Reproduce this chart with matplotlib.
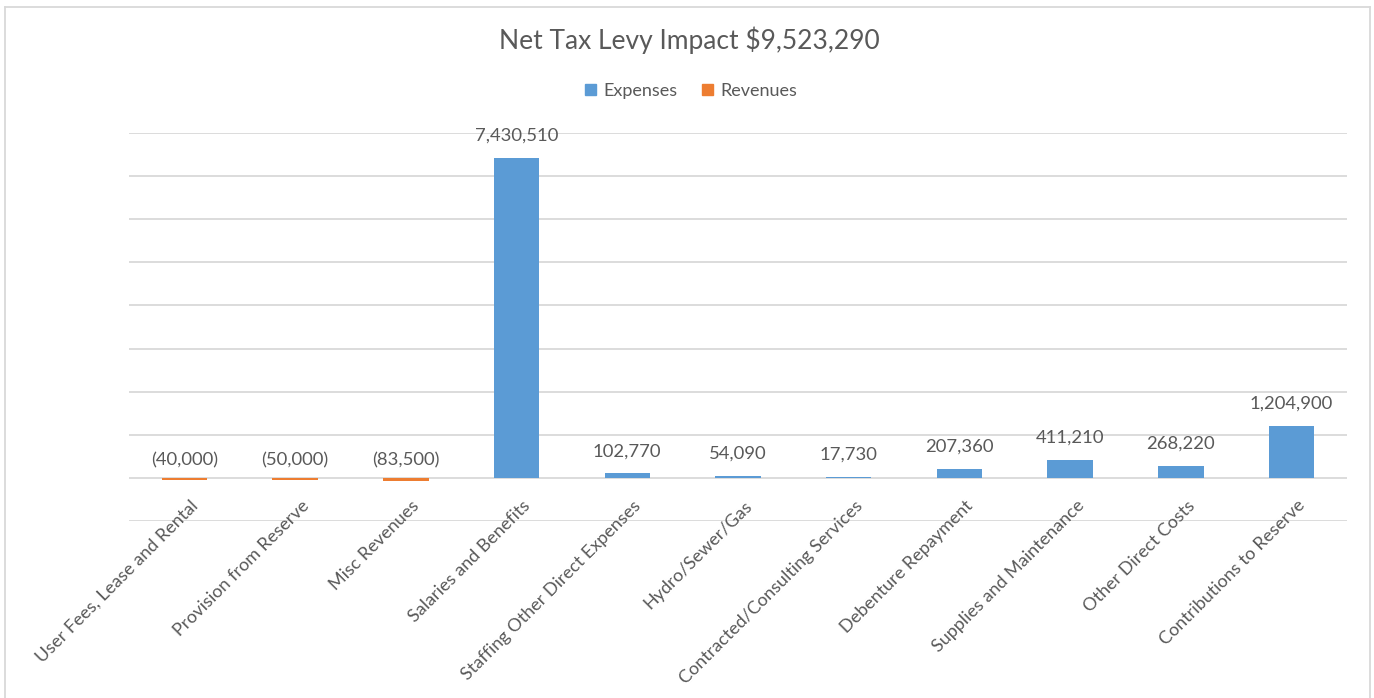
#!/usr/bin/env python3
"""Net tax levy impact: expenses and revenues by category."""

import matplotlib

matplotlib.use("Agg")
import matplotlib.pyplot as plt
from matplotlib.lines import Line2D
from matplotlib.patches import Patch

CATEGORIES = [
    "User Fees, Lease and Rental",
    "Provision from Reserve",
    "Misc Revenues",
    "Salaries and Benefits",
    "Staffing Other Direct Expenses",
    "Hydro/Sewer/Gas",
    "Contracted/Consulting Services",
    "Debenture Repayment",
    "Supplies and Maintenance",
    "Other Direct Costs",
    "Contributions to Reserve",
]
REVENUES = [-40000, -50000, -83500, None, None, None, None, None, None, None, None]
EXPENSES = [None, None, None, 7430510, 102770, 54090, 17730, 207360, 411210, 268220, 1204900]

BLUE = "#5B9BD5"
ORANGE = "#ED7D31"
TEXT = "#595959"
GRID = "#D9D9D9"

plt.rcParams["font.family"] = ["Lato", "DejaVu Sans"]


def fmt(value):
    if value < 0:
        return f"({-value:,.0f})"
    return f"{value:,.0f}"


fig = plt.figure(figsize=(13.74, 6.98), dpi=100)
ax = fig.add_axes([129 / 1374, 1 - 521 / 698, 1218 / 1374, 388 / 698])

for series, color in ((EXPENSES, BLUE), (REVENUES, ORANGE)):
    xs = [i for i, v in enumerate(series) if v is not None]
    vals = [v for v in series if v is not None]
    ax.bar(xs, vals, width=0.41, color=color, zorder=3)
    for x, v in zip(xs, vals):
        ax.annotate(
            fmt(v),
            (x, max(v, 0)),
            xytext=(0, 16 if v > 0 else 12.5),
            textcoords="offset points",
            ha="center",
            va="center",
            fontsize=13.3,
            color=TEXT,
            zorder=4,
        )

for i, name in enumerate(CATEGORIES):
    ax.annotate(
        name,
        (i, 0),
        xytext=(4, -14),
        textcoords="offset points",
        ha="right",
        va="top",
        rotation=45,
        rotation_mode="anchor",
        fontsize=13,
        color=TEXT,
    )

ax.set_xlim(-0.5, len(CATEGORIES) - 0.5)
ax.set_ylim(-1_000_000, 8_000_000)
ax.set_yticks(range(-1_000_000, 8_000_001, 1_000_000))
ax.set_xticks([])
ax.tick_params(axis="y", length=0, labelleft=False)
ax.grid(axis="y", color=GRID, linewidth=1.3, zorder=0)
for spine in ax.spines.values():
    spine.set_visible(False)

fig.text(0.502, 1 - 40 / 698, "Net Tax Levy Impact $9,523,290",
         ha="center", va="center", fontsize=19, color=TEXT)

handles = [Patch(color=BLUE, label="Expenses"), Patch(color=ORANGE, label="Revenues")]
fig.legend(handles=handles, loc="center", bbox_to_anchor=(0.503, 1 - 91 / 698),
           ncol=2, frameon=False, fontsize=13, labelcolor=TEXT,
           handlelength=0.6, handleheight=0.6, handletextpad=0.4, columnspacing=1.4)

# chart border
for xs, ys in (([5, 5], [0, 691]), ([5, 1370], [691, 691]), ([1370, 1370], [691, 0])):
    fig.add_artist(Line2D([x / 1374 for x in xs], [y / 698 for y in ys],
                          color=GRID, linewidth=1.3))

fig.savefig("out.png", dpi=100)
